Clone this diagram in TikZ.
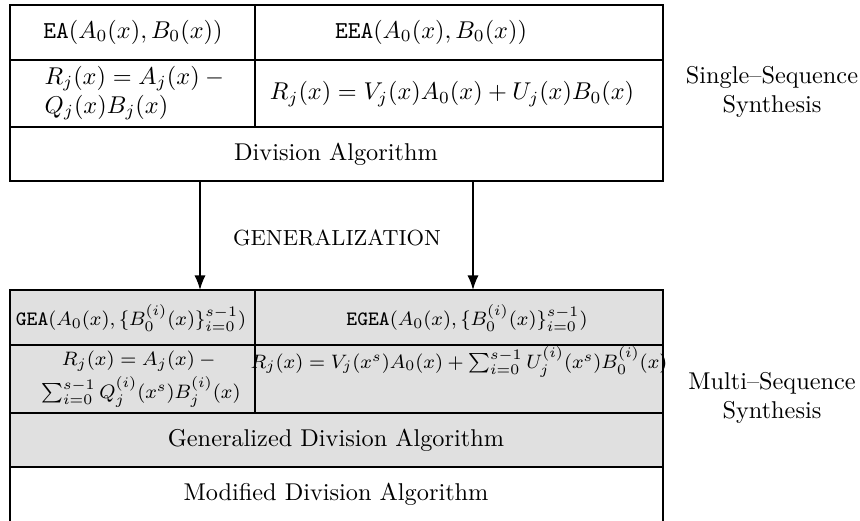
\documentclass[tikz,border=0pt]{standalone}
\usepackage{amsmath}
\usetikzlibrary{arrows.meta}
\newcommand{\pxu}{0.4116pt}
\tikzset{
	cell/.style={draw=black, line width=0.7pt, inner sep=0pt, outer sep=0pt, anchor=north west},
	gcell/.style={cell, fill=black!12},
	lbl/.style={inner sep=0pt, align=center},
	glbl/.style={lbl, font=\fontsize{8.4}{13.5}\selectfont},
	arr/.style={line width=0.7pt, -{Latex[length=6pt,width=4.6pt]}}
}

\begin{document}
\begin{tikzpicture}[x=\pxu, y=-\pxu]
			%%%%% START %%%%%
			\clip (0,0) rectangle (860,520);
			
			%%%%% single-sequence table %%%%%
			\node[cell, minimum width=245*\pxu, minimum height=55*\pxu] (ea) at (10,5) {};
			\node[cell, minimum width=408*\pxu, minimum height=55*\pxu] (eea) at (255,5) {};
			\node[cell, minimum width=245*\pxu, minimum height=67*\pxu] (rem) at (10,60) {};
			\node[cell, minimum width=408*\pxu, minimum height=67*\pxu] (ext) at (255,60) {};
			\node[cell, minimum width=653*\pxu, minimum height=54*\pxu] (div) at (10,127) {};
			
			\node[lbl] (eaT) at (133,32) {\texttt{EA}$(A_0(x),B_0(x))$};
			\node[lbl] (eeaT) at (431,32) {\texttt{EEA}$(A_0(x),B_0(x))$};
			\node[lbl, align=left] (remT) at (137,93) {$R_j(x)=A_j(x)-{}$\\$Q_j(x)B_j(x)$};
			\node[lbl] (extT) at (452,94) {$R_j(x)=V_j(x)A_0(x)+U_j(x)B_0(x)$};
			\node[lbl] (divT) at (336,154) {Division Algorithm};
			
			%%%%% multi-sequence table %%%%%
			\node[gcell, minimum width=245*\pxu, minimum height=55*\pxu] (gea) at (10,290) {};
			\node[gcell, minimum width=408*\pxu, minimum height=55*\pxu] (egea) at (255,290) {};
			\node[gcell, minimum width=245*\pxu, minimum height=68*\pxu] (grem) at (10,345) {};
			\node[gcell, minimum width=408*\pxu, minimum height=68*\pxu] (gext) at (255,345) {};
			\node[gcell, minimum width=653*\pxu, minimum height=54*\pxu] (gdiv) at (10,413) {};
			\node[cell, minimum width=653*\pxu, minimum height=56*\pxu] (mdiv) at (10,467) {};
			
			\node[glbl] (geaT) at (131,318) {\texttt{GEA}$(A_0(x),\{B_0^{(i)}(x)\}_{i=0}^{s-1})$};
			\node[glbl] (egeaT) at (467,318) {\texttt{EGEA}$(A_0(x),\{B_0^{(i)}(x)\}_{i=0}^{s-1})$};
			\node[glbl] (gremT) at (141,379) {$R_j(x)=A_j(x)-{}$\\$\sum_{i=0}^{s-1}Q_j^{(i)}(x^s)B_j^{(i)}(x)$};
			\node[glbl] (gextT) at (459,362) {$R_j(x)=V_j(x^s)A_0(x)+\sum_{i=0}^{s-1}U_j^{(i)}(x^s)B_0^{(i)}(x)$};
			\node[lbl] (gdivT) at (336,440) {Generalized Division Algorithm};
			\node[lbl] (mdivT) at (336,494) {Modified Division Algorithm};
			
			%%%%% arrows %%%%%
			\coordinate (la) at (200,0);
			\coordinate (ra) at (473,0);
			\draw[arr] (div.south -| la) -- (gea.north -| la);
			\draw[arr] (div.south -| ra) -- (egea.north -| ra);
			\node[lbl, font=\small] (genT) at (337,238) {GENERALIZATION};
			
			%%%%% side labels %%%%%
			\node[lbl] (single) at (772,92) {Single--Sequence\\Synthesis};
			\node[lbl] (multi) at (772,398) {Multi--Sequence\\Synthesis};
			
			%%%%% END %%%%%
\end{tikzpicture}
\end{document}
